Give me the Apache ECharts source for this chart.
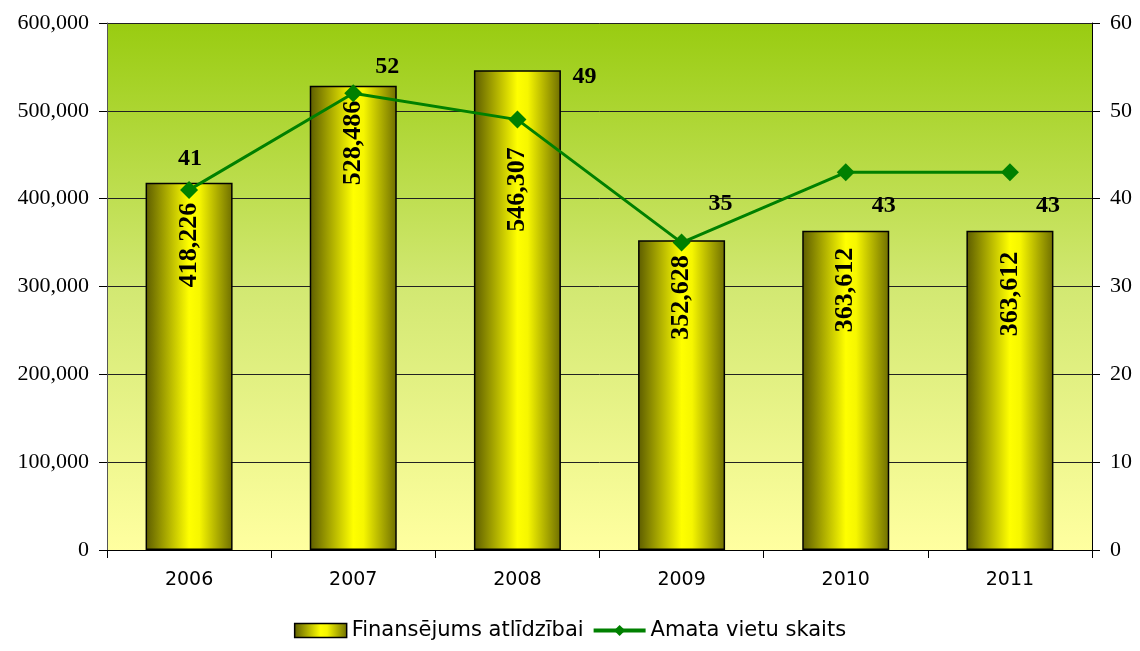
<!DOCTYPE html>
<html>
<head>
<meta charset="utf-8">
<script src="https://cdn.jsdelivr.net/npm/echarts@6/dist/echarts.min.js"></script>
<style>
  html, body { margin: 0; padding: 0; background: #fff; }
  #chart { width: 1140px; height: 651px; }
</style>
</head>
<body>
<div id="chart"></div>
<script>
// dati
const years = ['2006', '2007', '2008', '2009', '2010', '2011']
const funding = [418226, 528486, 546307, 352628, 363612, 363612]
const positions = [41, 52, 49, 35, 43, 43]

// label placement (pixels): distance from bar top, offset from line point
const barLabelDistance = [20, 15, 77, 15, 17, 21]
const lineLabelOffsets = [[1, -31], [34, -26], [67, -43], [39, -39], [38, 33], [38, 33]]

const fmt = (v) => String(v).replace(/\B(?=(\d{3})+(?!\d))/g, ',')

const chart = echarts.init(document.getElementById('chart'))

const barGradient = new echarts.graphic.LinearGradient(0, 0, 1, 0, [
  { offset: 0, color: '#5c5c00' },
  { offset: 0.5, color: '#ffff00' },
  { offset: 0.62, color: '#f6f600' },
  { offset: 1, color: '#6e6e00' },
])

const option = {
  animation: false,
  grid: {
    left: 107,
    right: 48,
    top: 23,
    bottom: 101,
    show: true,
    borderWidth: 0,
    backgroundColor: new echarts.graphic.LinearGradient(0, 0, 0, 1, [
      { offset: 0, color: '#99cc11' },
      { offset: 0.5, color: '#d2e872' },
      { offset: 1, color: '#ffffa0' },
    ]),
  },
  legend: {
    bottom: 5,
    left: 'center',
    itemWidth: 52,
    itemHeight: 14,
    itemGap: 8,
    textStyle: { fontFamily: 'DejaVu Sans', fontSize: 21, color: '#000' },
    data: [
      {
        name: 'Finansējums atlīdzībai',
        icon: 'rect',
        itemStyle: { color: barGradient, borderColor: '#000', borderWidth: 1.5 },
      },
      {
        name: 'Amata vietu skaits',
        lineStyle: { width: 4, color: '#008000' },
      },
    ],
  },
  xAxis: {
    type: 'category',
    data: years,
    axisLine: { lineStyle: { color: '#000' } },
    axisTick: { show: true, length: 8, lineStyle: { color: '#000' } },
    axisLabel: { margin: 21, fontFamily: 'DejaVu Sans', fontSize: 19, color: '#000' },
  },
  yAxis: [
    {
      type: 'value',
      min: 0,
      max: 600000,
      interval: 100000,
      axisLine: { show: true, lineStyle: { color: '#555' } },
      axisTick: { show: true, length: 8, lineStyle: { color: '#000' } },
      axisLabel: {
        margin: 18,
        fontFamily: 'Liberation Serif',
        fontSize: 22,
        color: '#000',
        formatter: fmt,
      },
      splitLine: { lineStyle: { color: '#222', width: 1 } },
    },
    {
      type: 'value',
      min: 0,
      max: 60,
      interval: 10,
      axisLine: { show: true, lineStyle: { color: '#000' } },
      axisTick: { show: true, length: 8, lineStyle: { color: '#000' } },
      axisLabel: { margin: 18, fontFamily: 'Liberation Serif', fontSize: 22, color: '#000' },
      splitLine: { show: false },
    },
  ],
  series: [
    {
      name: 'Finansējums atlīdzībai',
      type: 'bar',
      data: funding.map((v, i) => ({
        value: v,
        label: { distance: barLabelDistance[i] },
      })),
      barWidth: '53%',
      itemStyle: { color: barGradient, borderColor: '#000', borderWidth: 1.5 },
      label: {
        show: true,
        position: 'insideTop',
        rotate: 90,
        align: 'right',
        verticalAlign: 'middle',
        fontFamily: 'Liberation Serif',
        fontWeight: 'bold',
        fontSize: 26,
        color: '#000',
        formatter: (p) => fmt(p.value),
      },
    },
    {
      name: 'Amata vietu skaits',
      type: 'line',
      yAxisIndex: 1,
      data: positions.map((v, i) => ({
        value: v,
        label: { offset: lineLabelOffsets[i] },
      })),
      symbol: 'diamond',
      symbolSize: 18,
      color: '#008000',
      lineStyle: { color: '#008000', width: 3 },
      itemStyle: { color: '#008000' },
      label: {
        show: true,
        position: 'inside',
        fontFamily: 'Liberation Serif',
        fontWeight: 'bold',
        fontSize: 24,
        color: '#000',
      },
      z: 3,
    },
  ],
}

chart.setOption(option)
</script>
</body>
</html>
